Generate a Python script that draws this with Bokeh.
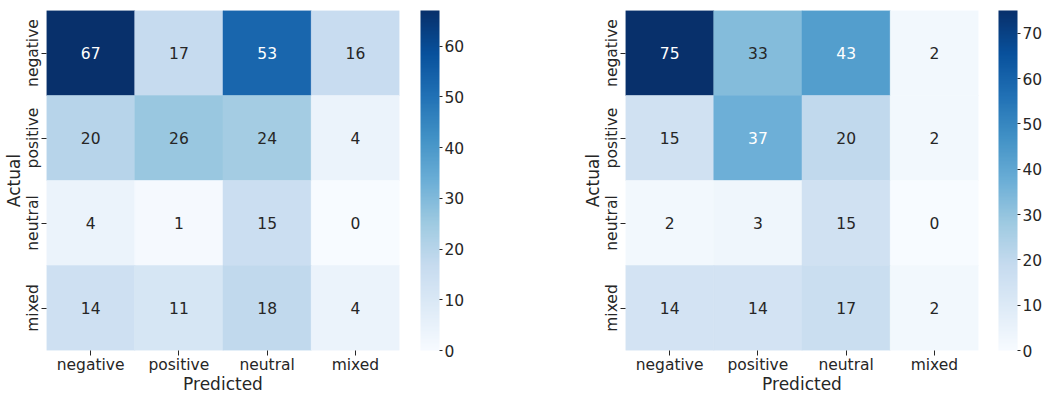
import numpy as np
from bokeh.plotting import figure
from bokeh.models import (ColumnDataSource, LinearColorMapper, ColorBar, FactorRange,
                          SingleIntervalTicker, FixedTicker)
from bokeh.layouts import row
from bokeh.palettes import Blues256
from bokeh.core.properties import value
from bokeh.embed import file_html
from bokeh.resources import INLINE

labels = ["negative", "positive", "neutral", "mixed"]
cm_left = [
    [67, 17, 53, 16],
    [20, 26, 24, 4],
    [4, 1, 15, 0],
    [14, 11, 18, 4],
]
cm_right = [
    [75, 33, 43, 2],
    [15, 37, 20, 2],
    [2, 3, 15, 0],
    [14, 14, 17, 2],
]

FONT = "DejaVu Sans"
TXT = "#262626"
palette = list(reversed(Blues256))


def lum(hexc):
    r, g, b = (int(hexc[i:i + 2], 16) / 255 for i in (1, 3, 5))
    def f(c):
        return c / 12.92 if c <= 0.03928 else ((c + 0.055) / 1.055) ** 2.4
    return 0.2126 * f(r) + 0.7152 * f(g) + 0.0722 * f(b)


def make(cm, left_border, right_border, gap):
    arr = np.array(cm)
    lo, hi = float(arr.min()), float(arr.max())
    mapper = LinearColorMapper(palette=palette, low=lo, high=hi)
    xs, ys, vals, txt, tcol = [], [], [], [], []
    for i, a in enumerate(labels):
        for j, pr in enumerate(labels):
            v = cm[i][j]
            xs.append(pr)
            ys.append(a)
            vals.append(v)
            txt.append(str(v))
            idx = int(round((v - lo) / (hi - lo) * 255))
            c = palette[min(max(idx, 0), 255)]
            tcol.append(TXT if lum(c) > 0.408 else "white")
    src = ColumnDataSource(dict(x=xs, y=ys, v=vals, t=txt, tc=tcol))
    p = figure(frame_width=353, frame_height=340, output_backend="svg", toolbar_location=None,
               x_range=FactorRange(factors=labels),
               y_range=FactorRange(factors=list(reversed(labels))),
               min_border_left=left_border, min_border_right=right_border,
               min_border_top=10, min_border_bottom=0)
    p.rect(x="x", y="y", width=1, height=1, source=src,
           fill_color={"field": "v", "transform": mapper},
           line_color={"field": "v", "transform": mapper}, line_width=0.5)
    p.text(x="x", y="y", text="t", source=src, text_color="tc",
           text_align="center", text_baseline="middle",
           text_font=value(FONT), text_font_size="15.5px")
    p.outline_line_color = None
    p.grid.visible = False
    for ax in (p.xaxis[0], p.yaxis[0]):
        ax.axis_line_color = None
        ax.major_tick_out = 5
        ax.major_tick_in = 0
        ax.major_tick_line_color = TXT
        ax.minor_tick_line_color = None
        ax.major_label_text_font = FONT
        ax.major_label_text_font_size = "15.5px"
        ax.major_label_text_color = TXT
        ax.major_label_standoff = 0
        ax.axis_label_text_font = FONT
        ax.axis_label_text_font_size = "17px"
        ax.axis_label_text_font_style = "normal"
        ax.axis_label_text_color = TXT
        ax.axis_label_standoff = -3
    p.xaxis.axis_label = "Predicted"
    p.yaxis.axis_label = "Actual"
    p.yaxis.major_label_orientation = "vertical"

    # invisible spacer between heatmap and colour bar
    spacer = ColorBar(color_mapper=mapper, width=gap, padding=0, scale_alpha=0,
                      ticker=FixedTicker(ticks=[]), major_tick_out=0, major_tick_in=0,
                      label_standoff=0, bar_line_color=None, border_line_color=None,
                      background_fill_color=None, major_label_text_alpha=0)
    p.add_layout(spacer, "right")
    cb = ColorBar(color_mapper=mapper, width=19, padding=0,
                  ticker=SingleIntervalTicker(interval=10, num_minor_ticks=0),
                  major_label_text_font=FONT, major_label_text_font_size="15.5px",
                  major_label_text_color=TXT, major_tick_out=3, major_tick_in=0,
                  major_tick_line_color=TXT, label_standoff=2,
                  bar_line_color=None, border_line_color=None,
                  background_fill_color=None)
    p.add_layout(cb, "right")
    return p


p1 = make(cm_left, 42, 141, 21)
p2 = make(cm_right, 85, 63, 20)
layout = row(p1, p2)
open("out.html", "w").write(file_html(layout, INLINE))
